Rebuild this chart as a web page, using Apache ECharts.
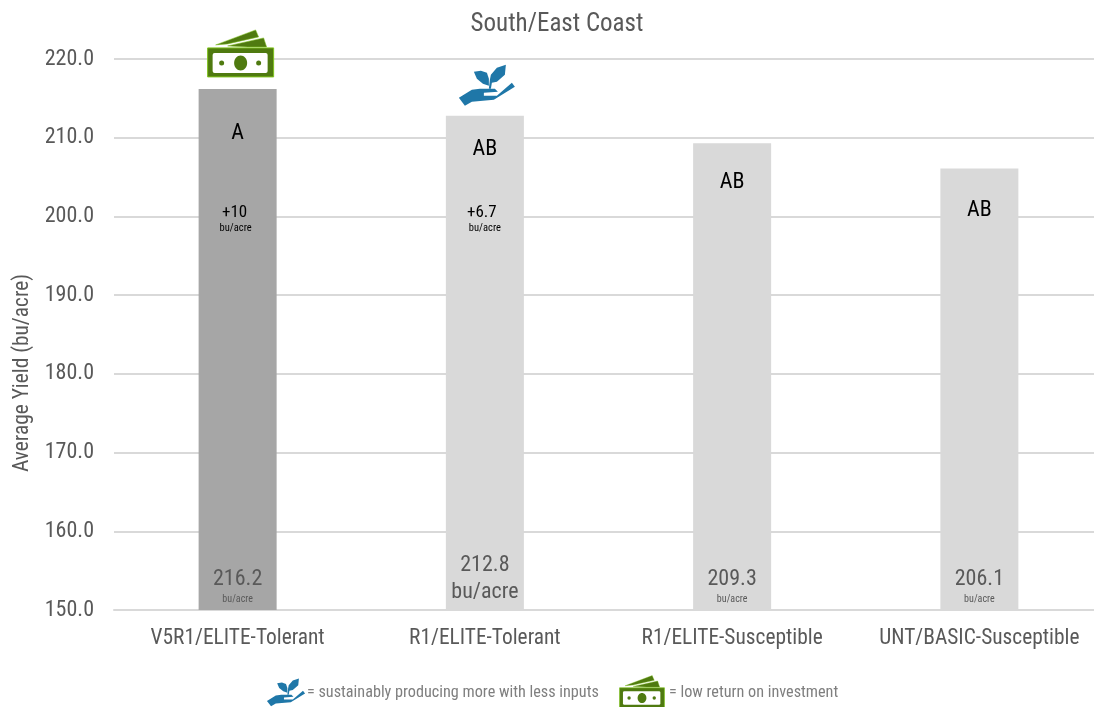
<!DOCTYPE html>
<html><head><meta charset="utf-8">
<style>html,body{margin:0;padding:0;background:#fff}#c{width:1094px;height:707px}</style>
<script src="https://cdn.jsdelivr.net/npm/echarts@6/dist/echarts.min.js"></script>
</head><body><div id="c"></div>
<script>
const categories = ['V5R1/ELITE-Tolerant','R1/ELITE-Tolerant','R1/ELITE-Susceptible','UNT/BASIC-Susceptible'];
const yields = [216.2,212.8,209.3,206.1];
const letters = ['A','AB','AB','AB'];
const advantages = ['+10','+6.7','',''];
const icons = ['money','plant','',''];
const yTicksMin = 150, yTicksMax = 220, yTickStep = 10;
const legendOne = '= sustainably producing more with less inputs';
const legendTwo = '= low return on investment';

const FONT = '"Roboto Condensed","Liberation Sans",sans-serif';
const GREY = '#595959';
const letterGap = [45,34,39,42];

function moneyIcon(x,y,s){ // x,y = centre of the note
  const g='#4f7a10', l='#7fc31c';
  return {type:'group',x:x,y:y,scaleX:s,scaleY:s,children:[
    {type:'polygon',shape:{points:[[-25,-18],[15,-33],[18,-26],[-13,-19]]},style:{fill:g,stroke:l,lineWidth:0.5}},
    {type:'polygon',shape:{points:[[-13,-17],[23,-25],[26,-16],[7,-16]]},style:{fill:g,stroke:l,lineWidth:0.5}},
    {type:'rect',shape:{x:-33,y:-15,width:66,height:29},style:{fill:g,stroke:l,lineWidth:1}},
    {type:'rect',shape:{x:-28,y:-10,width:55,height:20,r:2},style:{fill:'#fff'}},
    {type:'ellipse',shape:{cx:0,cy:0,rx:6.5,ry:7.5},style:{fill:g}},
    {type:'circle',shape:{cx:-19,cy:0,r:2.5},style:{fill:g}},
    {type:'circle',shape:{cx:18,cy:0,r:2.5},style:{fill:g}}
  ]};
}
function plantIcon(x,y,s){
  const b='#1f77a8';
  return {type:'group',x:x,y:y,scaleX:s,scaleY:s,children:[
    {type:'polygon',shape:{points:[[-28,16],[-15,8],[-7,7],[8,7],[11,10],[-3,11],[-3,14],[10,14],[25,1],[28,5],[7,18],[-15,20],[-22,24]]},style:{fill:b}},
    {type:'polygon',shape:{points:[[-13,-10],[-6,-11],[0,-9],[2,-3],[2,4],[-4,2],[-10,-3]]},style:{fill:b}},
    {type:'polygon',shape:{points:[[19,-17],[18,-7],[10,0],[5,1],[4,7],[2,7],[3,-2],[4,-7],[10,-14]]},style:{fill:b}}
  ]};
}

const chart = echarts.init(document.getElementById('c'),null,{renderer:'canvas'});
chart.setOption({
  animation:false,
  backgroundColor:'#fff',
  title:{text:'South/East Coast',left:552,top:7,textAlign:'center',
    textStyle:{fontFamily:FONT,fontSize:25,fontWeight:'normal',color:GREY}},
  grid:{left:114,top:59,width:989,bottom:97,containLabel:false,outerBoundsMode:'none'},
  xAxis:{type:'category',data:categories,
    axisLine:{show:true,lineStyle:{color:'#d9d9d9',width:2}},axisTick:{show:false},
    axisLabel:{fontFamily:FONT,fontSize:21.4,color:GREY,margin:18,interval:0}},
  yAxis:{type:'value',min:yTicksMin,max:yTicksMax,interval:yTickStep,
    name:'Average Yield (bu/acre)',nameLocation:'middle',nameGap:81,
    nameTextStyle:{fontFamily:FONT,fontSize:21.4,color:GREY,padding:[0,77,0,0]},
    axisLine:{show:false},axisTick:{show:false},
    splitLine:{lineStyle:{color:'#d9d9d9',width:2}},
    axisLabel:{fontFamily:FONT,fontSize:22,color:GREY,margin:20,padding:[2,0,0,0],formatter:v=>v.toFixed(1)}},
  series:[
    {type:'bar',barWidth:78,z:2,
     data:yields.map((v,i)=>({value:v,itemStyle:{color:i===0?'#a6a6a6':'#d9d9d9'}})),
     label:{show:true,position:'insideBottom',distance:4,
       formatter:p=>p.dataIndex===1
         ? '{big|'+p.value.toFixed(1)+'}\n{big|bu/acre}'
         : '{big|'+p.value.toFixed(1)+'}\n{small|bu/acre}',
       rich:{big:{fontFamily:FONT,fontSize:22,color:GREY,lineHeight:27},
             small:{fontFamily:FONT,fontSize:10,color:GREY,lineHeight:13}}}},
    {type:'custom',z:5,coordinateSystem:'cartesian2d',clip:false,
     data:yields.map((v,i)=>[i,v]),
     renderItem:(params,api)=>{
       const i=api.value(0), p=api.coord([i,api.value(1)]);
       const kids=[];
       kids.push({type:'text',style:{text:letters[i],x:p[0],y:p[1]+letterGap[i],align:'center',verticalAlign:'middle',
         fontFamily:FONT,fontSize:22,fill:'#000'}});
       if(advantages[i]){
         kids.push({type:'text',style:{text:advantages[i],x:p[0]-3,y:api.coord([i,200])[1]-4,align:'center',verticalAlign:'middle',
           fontFamily:FONT,fontSize:17,fill:'#000'}});
         kids.push({type:'text',style:{text:'bu/acre',x:p[0]-2+i*2,y:api.coord([i,200])[1]+12,align:'center',verticalAlign:'middle',
           fontFamily:FONT,fontSize:10.5,fill:'#000'}});
       }
       if(icons[i]==='money') kids.push(moneyIcon(p[0]+3,p[1]-26,1));
       if(icons[i]==='plant') kids.push(plantIcon(p[0]+2,p[1]-34,1));
       return {type:'group',children:kids};
     }}
  ],
  graphic:[
    plantIcon(286,690,0.68),
    {type:'text',left:307,top:685,style:{text:legendOne,fontFamily:FONT,fontSize:16.2,fill:'#7f7f7f'}},
    moneyIcon(642,698,0.68),
    {type:'text',left:669,top:685,style:{text:legendTwo,fontFamily:FONT,fontSize:16.2,fill:'#7f7f7f'}}
  ]
});
</script></body></html>
